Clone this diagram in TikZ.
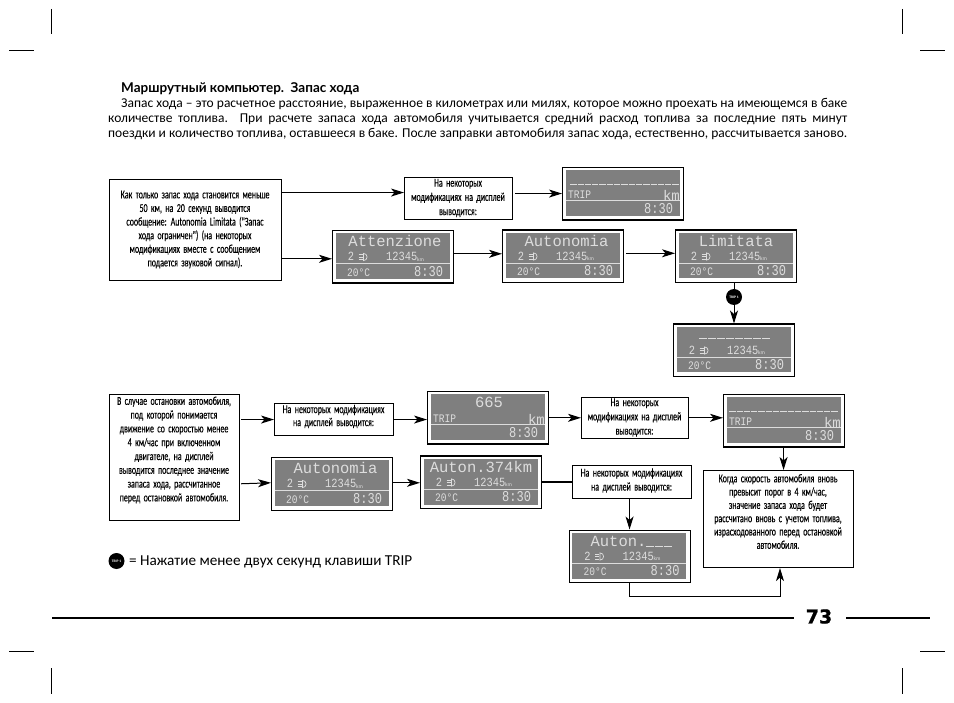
\documentclass[tikz,border=0pt]{standalone}
\usepackage{fontspec}
\setmainfont{Carlito}
\newfontfamily\condfont[FakeStretch=0.66,WordSpace=1.9,FakeBold=0.25]{Carlito}
\newfontfamily\lcdf{Liberation Mono}
\newfontfamily\lcds[FakeStretch=0.83]{Liberation Mono}
\newfontfamily\lcdb[FakeStretch=0.8]{Liberation Mono}
\newfontfamily\headf{Lato}
\newfontfamily\heavy[FakeBold=1]{DejaVu Sans}
\usetikzlibrary{arrows.meta}
\definecolor{lcdgray}{HTML}{7F7F7F}
\definecolor{lcdtxt}{HTML}{DDDDDD}
\newcommand\condsize[1]{\condfont\fontsize{12}{#1}\selectfont}
% one LCD dash: width, raise
\newcommand\dd[2]{\rule[#2]{#1}{.9pt}\kern1pt}
\newcommand\ddshort{\dd{6.3pt}{-1.5pt}}
\newcommand\ddmid{\dd{8pt}{2pt}}
\newcommand\ddlow{\dd{8pt}{0pt}}
\tikzset{
  arr/.style={line width=1pt,-{Stealth[length=13pt,width=8pt,inset=3.5pt]}},
  plain/.style={line width=1pt},
  tbox/.style={draw=black,line width=1.1pt,fill=white,inner sep=0pt,anchor=north west},
  ctext/.style={inner sep=0pt,align=center,font=\condsize{#1}},
  lbox/.style={draw=black,line width=1.1pt,fill=white,inner sep=0pt,anchor=north west,minimum width=121pt,minimum height=52.5pt},
  ltitle/.style={inner sep=0pt,text=lcdtxt,text height=9pt,text depth=2pt,font=\lcdf\fontsize{15.5}{16}\selectfont},
  lsmall/.style={inner sep=0pt,text=lcdtxt,font=\lcds\fontsize{12.5}{13}\selectfont},
  lbig/.style={inner sep=0pt,text=lcdtxt,font=\lcdb\fontsize{15}{16}\selectfont},
  trip/.style={circle,fill=black,minimum size=16pt,inner sep=0pt,text=white,font=\bfseries\fontsize{3.6}{4}\selectfont},
  crop/.style={line width=1pt}
}
% frame and common LCD face
\newcommand\lcdface[3]{%
  \node[lbox] (#1) at (#2,#3) {};
  \fill[lcdgray] (#2+3.5,#3+3.5) rectangle (#2+117.5,#3+49);
  \draw[lcdtxt,line width=.8pt] (#2+3.5,#3+33.5) -- (#2+117.5,#3+33.5);
}
% full LCD: name, x, y, title, title centre x
\newcommand\lcdfull[5]{%
  \lcdface{#1}{#2}{#3}
  \begin{scope}[shift={(#2,#3)}]
    \node[ltitle] (#1t) at (#5,13.5) {#4};
    \node[lsmall] (#1a) at (19,26.5) {2};
    \draw[lcdtxt,line width=.7pt] (31.5,23.4) arc (-90:90:3.6) -- cycle;
    \draw[lcdtxt,line width=.7pt] (26.5,24.5) -- (30.5,24.5) (26.5,27) -- (30.5,27) (26.5,29.5) -- (30.5,29.5);
    \node[lsmall,anchor=west] (#1b) at (54,26.5) {12345};
    \node[inner sep=0pt,text=lcdtxt,font=\fontsize{5.5}{6}\selectfont,anchor=west] (#1c) at (85,29.5) {km};
    \node[lsmall,anchor=west,font=\lcds\fontsize{11.5}{12}\selectfont] (#1d) at (15,42.5) {20°C};
    \node[lbig,anchor=west] (#1e) at (82,41.5) {8:30};
  \end{scope}
}
% trip LCD: name, x, y, title, title centre x, title y
\newcommand\lcdtrip[6]{%
  \lcdface{#1}{#2}{#3}
  \begin{scope}[shift={(#2,#3)}]
    \node[ltitle] (#1t) at (#5,#6) {#4};
    \node[lsmall,anchor=west,font=\lcds\fontsize{11.5}{12}\selectfont] (#1a) at (6,28) {TRIP};
    \node[lbig,anchor=east,font=\lcdf\fontsize{14}{14}\selectfont] (#1b) at (118,28) {km};
    \node[lbig,anchor=west] (#1c) at (82,41.5) {8:30};
  \end{scope}
}
\begin{document}
\begin{tikzpicture}[x=1pt,y=-1pt]
\useasboundingbox (0,0) rectangle (954,703);
% crop marks
\foreach \a/\b/\c/\d in {51/9/51/34,9/51/34/51,902.5/9/902.5/34,920/51/945/51,9/651.5/34/651.5,51/668/51/694,920/651.5/945/651.5,902.5/668/902.5/694}
  \draw[crop] (\a,\b) -- (\c,\d);
% heading
\node[anchor=base west,inner sep=0pt,font=\headf\bfseries\fontsize{13.5}{15}\selectfont] (head) at (121,93) {Маршрутный компьютер.\ \ Запас хода};
\node[anchor=base west,inner sep=0pt,font=\fontsize{13.5}{15}\selectfont] (l1) at (121,108) {\hbox to 726pt{Запас хода – это расчетное расстояние, выраженное в километрах или милях, которое можно проехать на имеющемся в баке}};
\node[anchor=base west,inner sep=0pt,font=\fontsize{13.5}{15}\selectfont] (l2) at (108,123) {\hbox to 739pt{количестве топлива. При расчете запаса хода автомобиля учитывается средний расход топлива за последние пять минут}};
\node[anchor=base west,inner sep=0pt,font=\fontsize{13.5}{15}\selectfont] (l3) at (108,138) {\hbox to 739pt{поездки и количество топлива, оставшееся в баке. После заправки автомобиля запас хода, естественно, рассчитывается заново.}};
% top group
\node[tbox,minimum width=172pt,minimum height=101pt] (boxa) at (109,179) {};
\node[ctext=13.6] (boxat) at (195,229.5) {Как только запас хода становится меньше\\50 км, на 20 секунд выводится\\сообщение: Autonomia Limitata ("Запас\\хода ограничен") (на некоторых\\модификациях вместе с сообщением\\подается звуковой сигнал).};
\node[tbox,minimum width=108pt,minimum height=42pt] (note1) at (404,177) {};
\node[ctext=14.2] (note1t) at (458,198) {На некоторых\\модификациях на дисплей\\выводится:};
\lcdtrip{lcda}{562}{167}{\ddshort\ddshort\ddshort\ddshort\ddshort\ddshort\ddshort\ddshort\ddshort\ddshort\ddshort\ddshort\ddshort\ddshort\ddshort}{63}{13}
\lcdfull{attn}{332}{230}{Attenzione}{63}
\lcdfull{auto}{502}{229.5}{Autonomia}{64.5}
\lcdfull{limi}{675}{229.5}{Limitata}{61}
\lcdfull{blnk}{673}{323.5}{\ddmid\ddmid\ddmid\ddmid\ddmid\ddmid\ddmid\ddmid}{62}
\node[trip] (trip1) at (734,297) {TRIP 1};
\draw[arr] ([yshift=6pt]boxa.east |- note1.west) -- ([yshift=6pt]note1.west);
\draw[arr] ([yshift=-2pt]boxa.east |- attn.west) -- ([yshift=-2pt]attn.west);
\draw[arr,shorten <=2pt] ([yshift=5pt]note1.east) -- ([yshift=5pt]note1.east -| lcda.west);
\draw[arr] ([yshift=3pt]attn.east) -- ([yshift=3pt]attn.east -| auto.west);
\draw[arr,shorten <=2pt] ([yshift=3pt]auto.east) -- ([yshift=3pt]auto.east -| limi.west);
\draw[plain] (limi.south -| trip1) -- (trip1);
\draw[arr] (trip1) -- (blnk.north -| trip1);
% bottom group
\node[tbox,minimum width=130pt,minimum height=126pt] (boxb) at (109,394) {};
\node[ctext=13.8] (boxbt) at (174,450) {В случае остановки автомобиля,\\под которой понимается\\движение со скоростью менее\\4 км/час при включенном\\двигателе, на дисплей\\выводится последнее значение\\запаса хода, рассчитанное\\перед остановкой автомобиля.};
\node[tbox,minimum width=119pt,minimum height=32pt] (note2) at (274,403) {};
\node[ctext=13] (note2t) at (333.5,416.5) {На некоторых модификациях\\на дисплей выводится:};
\lcdtrip{lcdb}{427}{391}{665}{62}{13.5}
\node[tbox,minimum width=107pt,minimum height=41pt] (note3) at (581,397) {};
\node[ctext=14.2] (note3t) at (634.5,417.5) {На некоторых\\модификациях на дисплей\\выводится:};
\lcdtrip{lcdc}{723}{394}{\ddshort\ddshort\ddshort\ddshort\ddshort\ddshort\ddshort\ddshort\ddshort\ddshort\ddshort\ddshort\ddshort\ddshort\ddshort}{61}{12.5}
\lcdfull{autb}{271}{457}{Autonomia}{64.5}
\lcdfull{aut3}{420}{455.5}{Auton.374km}{61}
\node[tbox,minimum width=119pt,minimum height=33pt] (note4) at (572,465) {};
\node[ctext=14] (note4t) at (631.5,480.5) {На некоторых модификациях\\на дисплей выводится:};
\node[tbox,minimum width=150pt,minimum height=97pt] (boxc) at (703,470) {};
\node[ctext=13.3] (boxct) at (778,511.5) {Когда скорость автомобиля вновь\\превысит порог в 4 км/час,\\значение запаса хода будет\\рассчитано вновь с учетом топлива,\\израсходованного перед остановкой\\автомобиля.};
\lcdfull{aut4}{568.5}{529.5}{Auton.\ddlow\ddlow\ddlow}{63.5}
\draw[arr,shorten <=1pt] (boxb.east |- note2.west) -- (note2.west);
\draw[arr] (note2.east) -- (note2.east -| lcdb.west);
\draw[arr,shorten <=1pt] (boxb.east |- autb.west) -- ([yshift=1pt]autb.west);
\draw[arr] ([yshift=1pt]autb.east) -- ([yshift=1pt]autb.east -| aut3.west);
\draw[arr] (lcdb.east) -- (lcdb.east -| note3.west);
\draw[arr] (note3.east |- lcdb.east) -- (lcdb.east -| lcdc.west);
\draw[line width=1.7pt] (aut3.east) -- (aut3.east -| note4.west);
\draw[arr] (note4.south -| aut4.north) -- (aut4.north);
\draw[arr] ([xshift=5pt]lcdc.south -| boxc.north) -- ([xshift=5pt]boxc.north);
\coordinate (cback) at (780,596);
\draw[arr] (aut4.south) |- (cback) -- (cback |- boxc.south);
% legend
\node[trip] (trip2) at (116.5,561) {TRIP 1};
\node[anchor=base west,inner sep=0pt,font=\fontsize{15.2}{16}\selectfont] (legend) at (129,565) {= Нажатие менее двух секунд клавиши TRIP};
% footer
\coordinate (fa) at (52,618); \coordinate (fb) at (794,618);
\coordinate (fc) at (846,618); \coordinate (fd) at (930,618);
\draw[line width=2pt] (fa) -- (fb) (fc) -- (fd);
\node[inner sep=0pt,font=\heavy\bfseries\fontsize{19}{20}\selectfont] (pg) at (819,616.5) {73};
\end{tikzpicture}
\end{document}
